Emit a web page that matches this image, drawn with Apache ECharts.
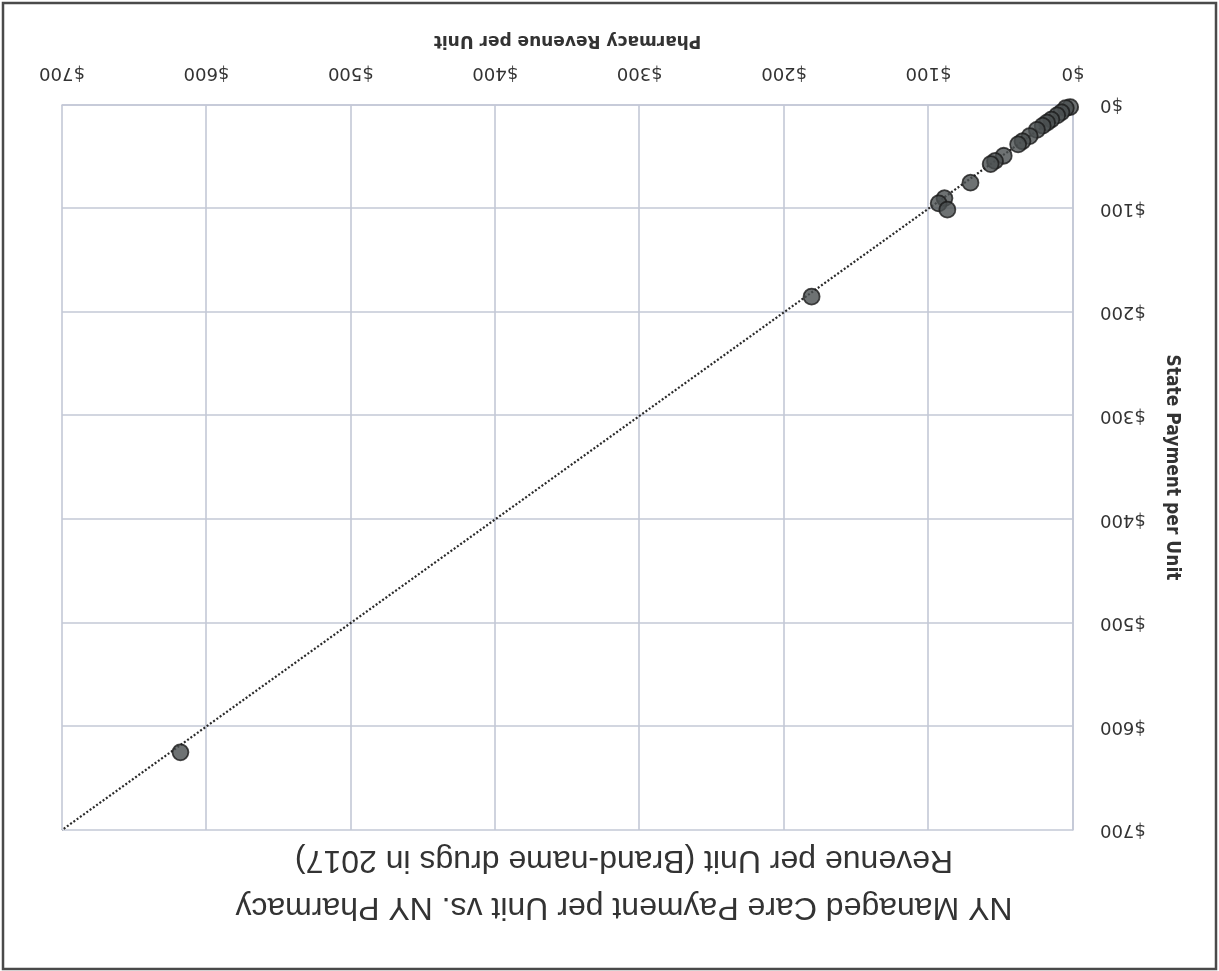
<!DOCTYPE html>
<html>
<head>
<meta charset="utf-8">
<script src="https://cdn.jsdelivr.net/npm/echarts@6/dist/echarts.min.js"></script>
<style>
html,body{margin:0;padding:0;background:#fff;}
#wrap{width:1219px;height:971px;transform:rotate(180deg);transform-origin:50% 50%;}
#chart{width:1219px;height:971px;}
</style>
</head>
<body>
<div id="wrap"><div id="chart"></div></div>
<script>
// Pharmacy Revenue per Unit (x) vs State Payment per Unit (y), USD
const pharmacyRevenue = [2, 5, 8, 11, 15, 18, 21, 25, 30, 35, 38, 48, 54, 57, 71, 89, 93, 87, 181, 618];
const statePayment    = [2, 3, 7, 10, 14, 17, 20, 24, 30, 35, 38, 49, 54, 57, 75, 90, 95, 101, 185, 625];
const trendX = [0, 700];
const trendY = [0, 700];
const axisTicks = [0, 100, 200, 300, 400, 500, 600, 700];
const titleLines = ['NY Managed Care Payment per Unit vs. NY Pharmacy', 'Revenue per Unit (Brand-name drugs in 2017)'];

const points = pharmacyRevenue.map((x, i) => [x, statePayment[i]]);
const trend = trendX.map((x, i) => [x, trendY[i]]);
const fmt = v => '$' + v;

const chart = echarts.init(document.getElementById('chart'), null, {renderer: 'canvas'});
const gridLine = {show: true, lineStyle: {color: '#c3c8d6', width: 1.6}};
const tickFont = {fontFamily: 'DejaVu Sans', fontSize: 18, color: '#333333'};
chart.setOption({
  animation: false,
  backgroundColor: '#fff',
  title: {
    text: titleLines.join('\n'),
    left: 590, top: 36, textAlign: 'center',
    textStyle: {fontFamily: 'Liberation Sans', fontSize: 32, fontWeight: 'normal', color: '#333333', lineHeight: 47}
  },
  graphic: [{
    type: 'rect', shape: {x: 3, y: 2, width: 1213, height: 966},
    style: {fill: 'none', stroke: '#4a4a4a', lineWidth: 2.5}, silent: true
  }],
  grid: {left: 146, right: 62, top: 141, bottom: 105, containLabel: false},
  xAxis: {
    type: 'value', min: axisTicks[0], max: axisTicks[axisTicks.length - 1], interval: 100,
    name: 'Pharmacy Revenue per Unit', nameLocation: 'middle', nameGap: 56,
    nameTextStyle: {fontFamily: 'DejaVu Sans', fontSize: 17, fontWeight: 'bold', color: '#333333'},
    axisLine: {show: true, lineStyle: {color: '#c3c8d6', width: 1.6}},
    axisTick: {show: false},
    splitLine: gridLine,
    axisLabel: Object.assign({formatter: fmt, margin: 23}, tickFont)
  },
  yAxis: {
    type: 'value', min: axisTicks[0], max: axisTicks[axisTicks.length - 1], interval: 100,
    name: 'State Payment per Unit', nameLocation: 'middle', nameGap: 89, nameRotate: 90,
    nameTextStyle: {fontFamily: "'DejaVu Sans Condensed', 'Liberation Sans', sans-serif", fontSize: 19, fontWeight: 'bold', color: '#333333'},
    axisLine: {show: true, lineStyle: {color: '#c3c8d6', width: 1.6}},
    axisTick: {show: false},
    splitLine: gridLine,
    axisLabel: Object.assign({formatter: fmt, margin: 27}, tickFont)
  },
  series: [
    {
      type: 'line', data: trend, showSymbol: false, symbol: 'none', z: 3,
      lineStyle: {color: '#2a2a2a', width: 2.2, type: [2, 2]}
    },
    {
      type: 'scatter', data: points, symbol: 'circle', symbolSize: 16, z: 4,
      itemStyle: {color: '#4a4f50', borderColor: '#1a1a1a', borderWidth: 1.8}
    }
  ]
});
</script>
</body>
</html>
